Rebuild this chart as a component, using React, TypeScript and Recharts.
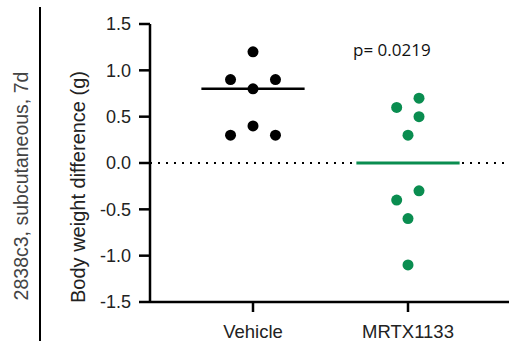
import {
  ComposedChart,
  Scatter,
  XAxis,
  YAxis,
  ReferenceLine,
} from "recharts";

const groups = ["Vehicle", "MRTX1133"];
const groupPos = [1, 2];

// body weight difference per animal, x = group position plus small jitter
const vehicleX = [1, 0.855, 1.145, 1, 1, 0.855, 1.145];
const vehicleY = [1.2, 0.9, 0.9, 0.8, 0.4, 0.3, 0.3];
const mrtxX = [2.071, 1.927, 2.071, 2, 2.071, 1.927, 2, 2];
const mrtxY = [0.7, 0.6, 0.5, 0.3, -0.3, -0.4, -0.6, -1.1];

const medians = [0.8, 0.0];
const yTicks = [-1.5, -1.0, -0.5, 0.0, 0.5, 1.0, 1.5];
const pValue = "p= 0.0219";
const sideTitle = "2838c3, subcutaneous, 7d";
const yLabel = "Body weight difference (g)";

const colors = ["#000000", "#0a8d50"];

const vehicleData = vehicleX.map((x, i) => ({ x, y: vehicleY[i] }));
const mrtxData = mrtxX.map((x, i) => ({ x, y: mrtxY[i] }));

const font = "'Liberation Sans', Arial, sans-serif";
const halfWidth = 0.333;

function dot(color: string) {
  return (props: any) => (
    <circle cx={props.cx} cy={props.cy} r={5.5} fill={color} />
  );
}

export default function App() {
  return (
    <div
      style={{
        position: "absolute",
        left: 0,
        top: 0,
        width: 509,
        height: 348,
        background: "#fff",
      }}
    >
      <ComposedChart
        width={509}
        height={348}
        margin={{ top: 24, right: 0, bottom: 0, left: 0 }}
      >
        <XAxis
          type="number"
          dataKey="x"
          domain={[0.3355, 2.6516]}
          ticks={groupPos}
          tickFormatter={(v: number) => groups[groupPos.indexOf(v)] ?? ""}
          allowDataOverflow
          height={46}
          tickSize={10}
          tickMargin={13}
          axisLine={{ stroke: "#000", strokeWidth: 2.5 }}
          tickLine={{ stroke: "#000", strokeWidth: 2.5 }}
          tick={{ fill: "#222", fontSize: 18.5, fontFamily: font }}
        />
        <YAxis
          type="number"
          dataKey="y"
          domain={[-1.5, 1.5]}
          ticks={yTicks}
          tickFormatter={(v: number) => v.toFixed(1)}
          width={150}
          tickSize={11}
          tickMargin={8}
          axisLine={{ stroke: "#000", strokeWidth: 2.5 }}
          tickLine={{ stroke: "#000", strokeWidth: 2.5 }}
          tick={{ fill: "#222", fontSize: 18, fontFamily: font }}
        />
        <ReferenceLine
          y={0}
          stroke="#000"
          strokeWidth={2}
          strokeDasharray="2 6"
        />
        <ReferenceLine
          segment={[
            { x: groupPos[0] - halfWidth, y: medians[0] },
            { x: groupPos[0] + halfWidth, y: medians[0] },
          ]}
          stroke={colors[0]}
          strokeWidth={2.5}
        />
        <ReferenceLine
          segment={[
            { x: groupPos[1] - halfWidth, y: medians[1] },
            { x: groupPos[1] + halfWidth, y: medians[1] },
          ]}
          stroke={colors[1]}
          strokeWidth={3}
        />
        <Scatter
          data={vehicleData}
          fill={colors[0]}
          shape={dot(colors[0])}
          isAnimationActive={false}
        />
        <Scatter
          data={mrtxData}
          fill={colors[1]}
          shape={dot(colors[1])}
          isAnimationActive={false}
        />
      </ComposedChart>
      <svg
        width={509}
        height={348}
        style={{ position: "absolute", left: 0, top: 0, pointerEvents: "none" }}
      >
        <line x1={40} y1={7} x2={40} y2={341} stroke="#000" strokeWidth={2} />
        <text
          x={28}
          y={186}
          transform="rotate(-90 28 186)"
          textAnchor="middle"
          fill="#444"
          fontSize={19.5}
          fontFamily={font}
        >
          {sideTitle}
        </text>
        <text
          x={85}
          y={187}
          transform="rotate(-90 85 187)"
          textAnchor="middle"
          fill="#222"
          fontSize={20}
          fontFamily={font}
        >
          {yLabel}
        </text>
        <text
          x={353}
          y={56}
          fill="#111"
          fontSize={17}
          fontFamily="'Open Sans', sans-serif"
        >
          {pValue}
        </text>
      </svg>
    </div>
  );
}
